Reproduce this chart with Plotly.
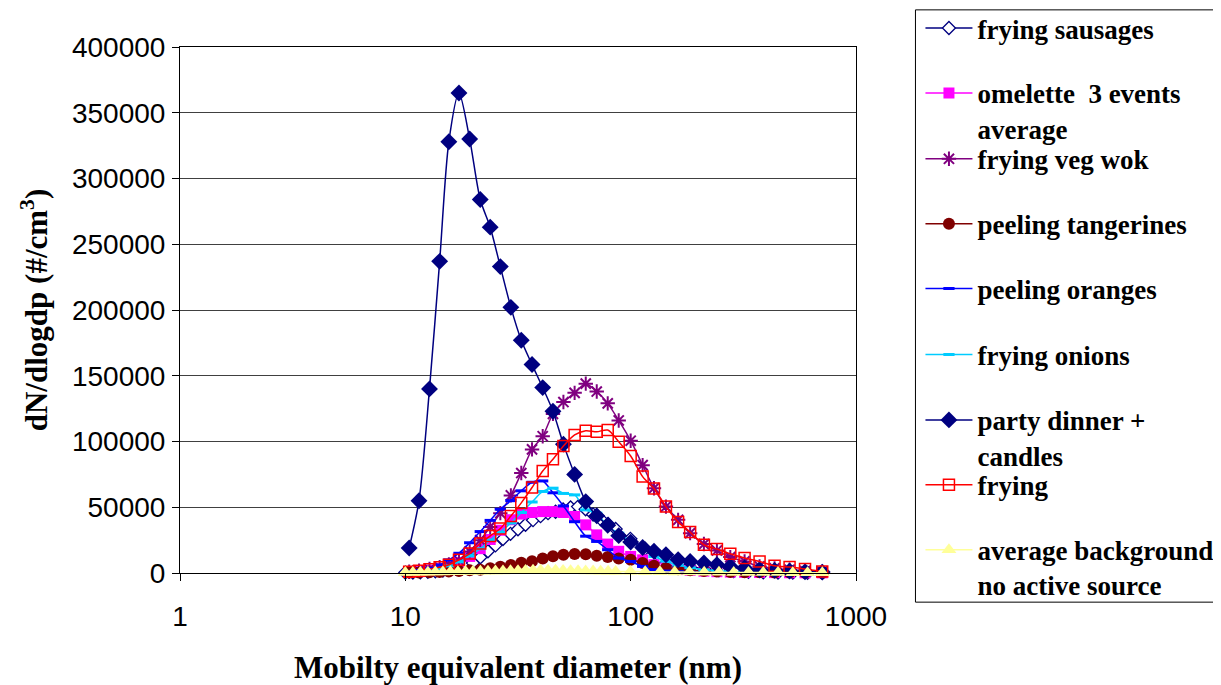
import plotly.graph_objects as go

# ---- diameters (nm) ----
dp_fine = [10.0, 10.8, 11.66, 12.59, 13.59, 14.68, 15.85, 17.11, 18.48, 19.95, 21.54, 23.26,
           25.12, 27.12, 29.29, 31.62, 34.15, 36.87, 39.81, 42.98, 46.42, 50.12, 54.12, 58.43,
           63.1, 68.13, 73.56, 79.43, 85.77, 99.7, 116.0, 134.8, 156.8, 182.3, 212.0, 246.5,
           286.6, 333.3, 387.6, 450.7, 524.1, 609.4, 708.7]
dp_std = [10.4, 11.5, 12.8, 14.2, 15.6, 17.3, 19.3, 21.5, 23.8, 26.4, 29.4, 32.7, 36.5, 40.7,
          45.2, 50.3, 56.4, 63.2, 70.7, 79.1, 88.5, 100.0, 113.0, 126.9, 143.4, 162.4, 183.6,
          211.4, 241.4, 276.8, 320.3, 373.3, 435.1, 507.2, 594.0, 708.2]

# ---- series values (dN/dlogdp, #/cm3) ----
frying_sausages = [300, 400, 600, 900, 1300, 1900, 2700, 3800, 5300, 7600, 12000, 16500, 21000,
                   25800, 29800, 33300, 36700, 40200, 43200, 45500, 46600, 48300, 49800, 50500,
                   48500, 44500, 41000, 37300, 33500, 26000, 18500, 12500, 8200, 5200, 3300, 2100,
                   1400, 900, 600, 400, 250, 150, 100]
omelette = [500, 1000, 2000, 3500, 5500, 8000, 12600, 18500, 25500, 32500, 40500, 44800, 46000,
            46700, 46700, 46000, 43000, 36600, 29000, 22000, 16500, 12600, 10000, 6300, 4000,
            2800, 2000, 1400, 1000, 700, 500, 400, 300, 200, 150, 100]
veg_wok = [1000, 1800, 3000, 4500, 6500, 9500, 16400, 25000, 35000, 45500, 59000, 76000, 94000,
           104000, 121000, 130000, 137000, 144000, 138000, 129000, 116000, 100600, 82000, 64500,
           50500, 40400, 30300, 22000, 17100, 12100, 8800, 5000, 3500, 2500, 1500, 1000]
tangerines = [300, 400, 600, 800, 1200, 1600, 2000, 2500, 3600, 4800, 6000, 7800, 9000, 11000,
              12800, 13900, 14400, 14300, 13200, 12100, 11000, 10000, 7600, 5500, 3800, 2800,
              2000, 1500, 1100, 800, 600, 500, 400, 300, 200, 100]
oranges = [1000, 2000, 3500, 6000, 10000, 15000, 23000, 31500, 40000, 48500, 55000, 62500, 69000,
           70000, 61000, 51000, 39000, 28000, 24000, 17700, 11400, 8800, 5000, 2500, 1500, 1000,
           600, 400, 300, 200, 150, 100, 100, 100, 100, 100]
onions = [500, 1000, 2000, 3500, 5500, 8500, 13000, 18500, 25000, 31000, 38000, 46000, 54000,
          62000, 64500, 60500, 59400, 48000, 45500, 35400, 30300, 24000, 19000, 12600, 9000, 6000,
          4000, 2500, 1800, 1200, 800, 500, 300, 200, 150, 100]
party_candles = [19000, 55000, 140000, 237000, 328000, 365000, 330000, 284000, 263000, 233000,
                 202000, 177000, 158500, 141000, 123000, 98000, 75000, 54300, 43500, 36300, 28400,
                 23500, 19400, 16500, 13900, 10100, 8800, 7600, 6300, 5000, 3800, 2500, 2000,
                 1500, 1000, 700]
frying = [1000, 1800, 2800, 4300, 6300, 10100, 14800, 22500, 28200, 33800, 43300, 53300, 65000,
          77600, 86500, 96600, 105000, 108200, 107400, 108700, 99800, 89000, 73300, 64200, 50500,
          38700, 31100, 21500, 18200, 14600, 11400, 8800, 5500, 4500, 3000, 1200]
background = [300, 400, 500, 600, 700, 800, 900, 1000, 1100, 1200, 1300, 1400, 1500, 1600, 1700,
              1800, 1900, 2000, 2000, 2000, 2000, 1900, 1800, 1700, 1600, 1500, 1400, 1300, 1200,
              1100, 1000, 900, 800, 700, 600, 500, 450, 400, 350, 300, 250, 200, 150]

y_ticks = [0, 50000, 100000, 150000, 200000, 250000, 300000, 350000, 400000]
x_ticks = [1, 10, 100, 1000]
x_ticktext = ["1", "10", "100", "1000"]

series = [
    ("frying sausages", dp_fine, frying_sausages, "#000080", "diamond", 10, "white", 1.3),
    ("omelette  3 events<br>average", dp_std, omelette, "#FF00FF", "square", 11, "#FF00FF", 0),
    ("frying veg wok", dp_std, veg_wok, "#800080", "asterisk-open", 12, "#800080", 2),
    ("peeling tangerines", dp_std, tangerines, "#800000", "circle", 12, "#800000", 0),
    ("peeling oranges", dp_std, oranges, "#0000FF", "line-ew-open", 8, "#0000FF", 3),
    ("frying onions", dp_std, onions, "#00CCFF", "line-ew-open", 8, "#00CCFF", 3),
    ("party dinner +<br>candles", dp_std, party_candles, "#000080", "diamond", 13, "#000080", 0),
    ("frying", dp_std, frying, "#FF0000", "square-open", 11, "#FF0000", 1.5),
    ("average background<br>no active source", dp_fine, background, "#FFFF99", "triangle-up", 13, "#FFFF99", 0),
]

# The page has an 8 px body margin, so the figure is 8 px smaller and
# all reference pixel positions are shifted by 8.
OFF = 8
W, H = 1221 - OFF, 685 - OFF
L_PX, R_PX, T_PX, B_PX = 180 - OFF, 856.5 - OFF, 46.5 - OFF, 573.5 - OFF
pw, ph = R_PX - L_PX, B_PX - T_PX

def px2paper_x(px):
    return (px - OFF - L_PX) / pw

def px2paper_y(py):
    return (B_PX - (py - OFF)) / ph

legend_centers = [30.7, 95.7, 161.7, 226.7, 291.7, 357.7, 423.3, 488.3, 553.3]

fig = go.Figure()
layout_legends = {}
for i, (name, xs, ys, color, sym, size, fill, lw) in enumerate(series):
    lg = "legend" if i == 0 else f"legend{i+1}"
    marker = dict(symbol=sym, size=size, color=fill,
                  line=dict(color=color, width=lw))
    fig.add_trace(go.Scatter(
        x=xs, y=ys, name=name, mode="lines+markers",
        line=dict(color=color, width=1.5, shape="spline", smoothing=0.8),
        marker=marker, legend=lg, cliponaxis=False,
    ))
    layout_legends[lg] = dict(
        x=px2paper_x(921), xanchor="left",
        y=px2paper_y(legend_centers[i] - 27.3), yanchor="top",
        bgcolor="rgba(0,0,0,0)", borderwidth=0,
        font=dict(family="Liberation Serif", size=27, color="black", weight="bold"),
        valign="top", itemwidth=47,
    )

fig.update_layout(**layout_legends)

fig.update_layout(
    width=W, height=H,
    margin=dict(l=L_PX, r=W - R_PX, t=T_PX, b=H - B_PX, autoexpand=False),
    paper_bgcolor="white", plot_bgcolor="white",
    showlegend=True,
    xaxis=dict(
        type="log", range=[0, 3], tickvals=x_ticks, ticktext=x_ticktext,
        showgrid=False, showline=True, linecolor="black", linewidth=1, mirror=True,
        ticks="outside", ticklen=7, tickcolor="black", ticklabelstandoff=11,
        tickfont=dict(family="Liberation Sans", size=28, color="black"),
        title=dict(text="<b>Mobilty equivalent diameter (nm)</b>", standoff=25,
                   font=dict(family="Liberation Serif", size=31, color="black")),
        zeroline=False,
    ),
    yaxis=dict(
        range=[0, 400000], tickvals=y_ticks, tickformat="d",
        showgrid=True, gridcolor="#404040", gridwidth=1,
        showline=True, linecolor="black", linewidth=1, mirror=True,
        ticks="outside", ticklen=7, tickcolor="black", ticklabelstandoff=1,
        tickfont=dict(family="Liberation Sans", size=28, color="black"),
        title=dict(text="<b>dN/dlogdp (#/cm<sup>3</sup>)</b>", standoff=15,
                   font=dict(family="Liberation Serif", size=31, color="black")),
        zeroline=False,
    ),
    shapes=[dict(type="rect", xref="paper", yref="paper",
                 x0=px2paper_x(916), x1=px2paper_x(1240),
                 y0=px2paper_y(602.7), y1=px2paper_y(9.3),
                 line=dict(color="black", width=1), fillcolor="rgba(0,0,0,0)", layer="below")],
)

fig.write_html("out.html")
